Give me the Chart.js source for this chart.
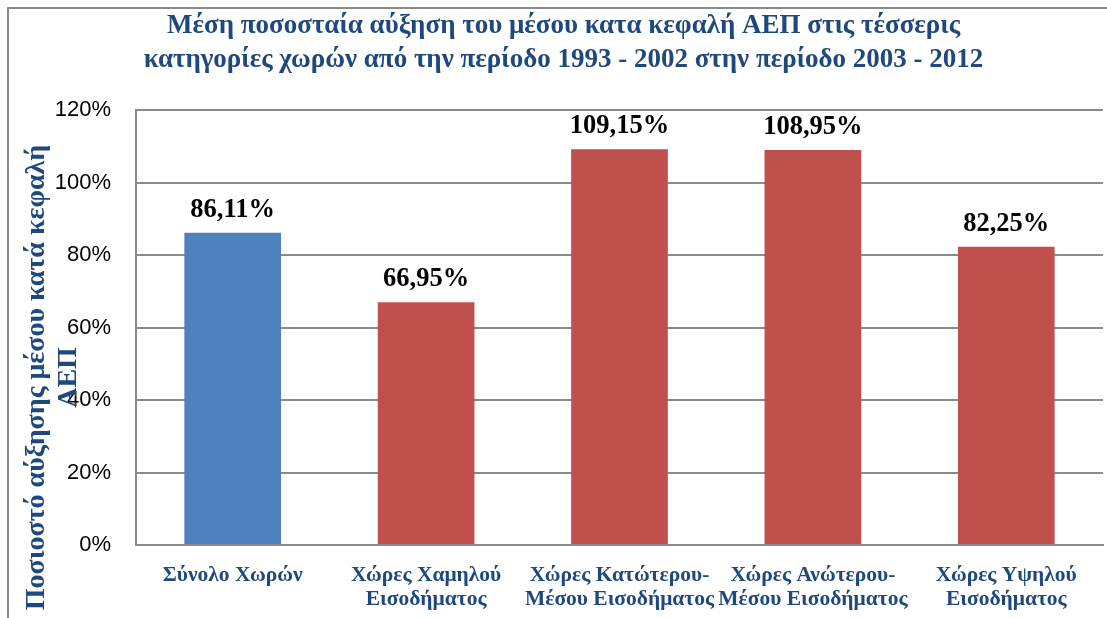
<!DOCTYPE html>
<html>
<head>
<meta charset="utf-8">
<script src="https://cdn.jsdelivr.net/npm/chart.js@4.4.0/dist/chart.umd.min.js"></script>
<style>
  html, body { margin: 0; padding: 0; background: #ffffff; }
  #wrap { position: relative; width: 1107px; height: 618px; }
</style>
</head>
<body>
<div id="wrap"><canvas id="c" width="1107" height="618"></canvas></div>
<script>
const categories = [
  ["Σύνολο Χωρών"],
  ["Χώρες Χαμηλού", "Εισοδήματος"],
  ["Χώρες Κατώτερου-", "Μέσου Εισοδήματος"],
  ["Χώρες Ανώτερου-", "Μέσου Εισοδήματος"],
  ["Χώρες Υψηλού", "Εισοδήματος"]
];
const growthValues = [86.11, 66.95, 109.15, 108.95, 82.25];
const barColors = ["#4F81BD", "#C0504D", "#C0504D", "#C0504D", "#C0504D"];
const yTicks = [0, 20, 40, 60, 80, 100, 120];
const titleLines = [
  "Μέση ποσοσταία αύξηση του μέσου κατα κεφαλή ΑΕΠ στις τέσσερις",
  "κατηγορίες χωρών από την περίοδο 1993 - 2002 στην περίοδο 2003 - 2012"
];
const yTitleLines = ["Ποσιοστό αύξησης μέσου κατά κεφαλή", "ΑΕΠ"];

const NAVY = "#1F497D";
const GRID = "#8A8A8A";

const framePlugin = {
  id: "frame",
  beforeDraw(chart) {
    const ctx = chart.ctx;
    ctx.save();
    ctx.strokeStyle = GRID;
    ctx.lineWidth = 2;
    ctx.beginPath();
    ctx.moveTo(8, chart.height);
    ctx.lineTo(8, 8);
    ctx.lineTo(chart.width, 8);
    ctx.stroke();
    ctx.restore();
  },
  afterDraw(chart) {
    const ctx = chart.ctx;
    const area = chart.chartArea;
    ctx.save();
    // main title
    ctx.fillStyle = NAVY;
    ctx.font = "bold 27px 'Liberation Serif', 'DejaVu Serif', serif";
    ctx.textAlign = "center";
    ctx.textBaseline = "middle";
    const cx = chart.width / 2 + 10;
    ctx.fillText(titleLines[0], cx, 26);
    ctx.fillText(titleLines[1], cx, 60);
    // y axis title (rotated)
    const cy = (area.top + area.bottom) / 2;
    ctx.font = "bold 28px 'Liberation Serif', 'DejaVu Serif', serif";
    ctx.translate(37, cy + 50);
    ctx.rotate(-Math.PI / 2);
    ctx.fillText(yTitleLines[0], 0, 0);
    ctx.fillText(yTitleLines[1], 0, 32);
    ctx.restore();
    // data labels
    ctx.save();
    ctx.fillStyle = "#000000";
    ctx.font = "bold 26.5px 'Liberation Serif', 'DejaVu Serif', serif";
    ctx.textAlign = "center";
    ctx.textBaseline = "alphabetic";
    const meta = chart.getDatasetMeta(0);
    meta.data.forEach((bar, i) => {
      const v = growthValues[i];
      const txt = v.toFixed(2).replace(".", ",") + "%";
      ctx.fillText(txt, bar.x, bar.y - 16);
    });
    ctx.restore();
  }
};

new Chart(document.getElementById("c"), {
  type: "bar",
  data: {
    labels: categories,
    datasets: [{
      data: growthValues,
      backgroundColor: barColors,
      borderWidth: 0,
      barPercentage: 0.5,
      categoryPercentage: 1.0
    }]
  },
  options: {
    responsive: false,
    animation: false,
    devicePixelRatio: 1,
    layout: { padding: { top: 110, right: 4, bottom: 0, left: 0 } },
    plugins: {
      legend: { display: false },
      title: { display: false },
      tooltip: { enabled: false }
    },
    scales: {
      x: {
        grid: { display: false, drawTicks: false },
        border: { display: true, color: GRID, width: 2 },
        ticks: {
          color: NAVY,
          font: { family: "'Liberation Serif', serif", size: 21.5, weight: "bold", lineHeight: 1.12 },
          padding: 18,
          maxRotation: 0,
          autoSkip: false
        },
        afterFit(scale) { scale.height = 73; }
      },
      y: {
        min: 0,
        max: 120,
        afterBuildTicks(scale) { scale.ticks = yTicks.map(v => ({ value: v })); },
        grid: { color: GRID, lineWidth: 2, drawTicks: false },
        border: { display: true, color: GRID, width: 2 },
        ticks: {
          color: "#000000",
          font: { family: "'Liberation Sans', sans-serif", size: 22 },
          padding: 25,
          callback: v => v + "%"
        },
        afterFit(scale) { scale.width = 136; }
      }
    }
  },
  plugins: [framePlugin]
});
</script>
</body>
</html>
